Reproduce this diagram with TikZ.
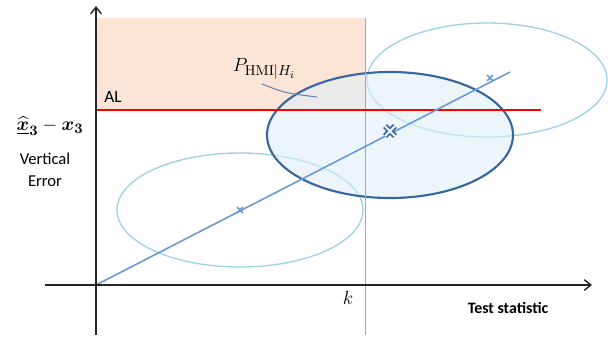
\documentclass[tikz,border=0pt]{standalone}
\usepackage{amsmath}
\usepackage{bm}
\usepackage{fontspec}
\newfontfamily\calfont{Carlito}
\usetikzlibrary{arrows.meta}
\definecolor{orangefill}{HTML}{FCE4D6}
\definecolor{lightell}{HTML}{9BD3E6}
\definecolor{darkell}{HTML}{3A66A0}
\definecolor{ellfill}{HTML}{DDEEF7}
\definecolor{diag}{HTML}{6A9AD6}
\definecolor{kline}{HTML}{86AEE0}
\tikzset{
  axis/.style={line width=1.1pt, black!85, -{Straight Barb[length=5pt,width=8pt]}},
  lightellipse/.style={draw=lightell, line width=1pt},
  mainellipse/.style={draw=darkell, line width=1.6pt, fill=ellfill, fill opacity=0.6},
  smallcross/.style={diag, line width=1.2pt},
  lbl/.style={inner sep=1pt, font=\calfont\fontsize{11}{13}\selectfont}
}
\begin{document}
\begin{tikzpicture}[x=0.0265cm,y=-0.0265cm]
\useasboundingbox (0,0) rectangle (608,342);
% orange region
\fill[orangefill] (97,18) rectangle (365,110);
% light ellipses
\draw[lightellipse] (240,210) ellipse [x radius=123, y radius=57];
\draw[lightellipse] (487,80) ellipse [x radius=120, y radius=57];
% main ellipse
\draw[mainellipse] (390,135) ellipse [x radius=123, y radius=63];
% k line
\coordinate (ktop) at (365,18);
\coordinate (kbot) at (365,335);
\draw[kline, line width=0.7pt] (ktop) -- (kbot);
% AL line
\coordinate (alL) at (97,110);
\coordinate (alR) at (541,110);
\draw[red, line width=1.2pt] (alL) -- (alR);
% diagonal
\coordinate (o) at (96,285);
\coordinate (dend) at (510,72);
\draw[diag, line width=1.2pt] (o) -- (dend);
% crosses
\foreach \p in {(240,210),(490,78)}{
  \draw[smallcross] \p ++(-3,-3) -- ++(6,6);
  \draw[smallcross] \p ++(-3,3) -- ++(6,-6);
}
\begin{scope}[shift={(390,131)}]
  \draw[darkell, line width=4.2pt] (-5,-5) -- (5,5) (-5,5) -- (5,-5);
  \draw[ellfill!60!white, line width=1.6pt] (-5,-5) -- (5,5) (-5,5) -- (5,-5);
\end{scope}
% axes
\coordinate (ybot) at (96,335);
\coordinate (ytop) at (96,6);
\coordinate (xl) at (45,285);
\coordinate (xr) at (592,285);
\draw[axis] (ybot) -- (ytop);
\draw[axis] (xl) -- (xr);
% labels
\node[inner sep=1pt, font=\fontsize{15.5}{17}\selectfont] (phmi) at (264,69) {$P_{\mathrm{HMI}|H_i}$};
\coordinate (lead1) at (262,84);
\coordinate (lead2) at (317,97);
\draw[darkell!80, line width=0.8pt] (lead1) .. controls (285,93) .. (lead2);
\node[lbl, font=\calfont\fontsize{13}{15}\selectfont] (al) at (113,97) {AL};
\node[inner sep=0pt, font=\fontsize{15}{17}\selectfont] (err) at (50,126) {$\underline{\bm{\widehat{x}}}_{\bm 3}-\bm{x}_{\bm 3}$};
\node[lbl, font=\calfont\fontsize{12.5}{15}\selectfont] (vert) at (45,159) {Vertical};
\node[lbl, font=\calfont\fontsize{12.5}{15}\selectfont] (errw) at (45,181) {Error};
\node[inner sep=1pt, font=\fontsize{15}{17}\selectfont] (k) at (348,298) {$k$};
\node[lbl, font=\calfont\bfseries\fontsize{12}{14}\selectfont] (ts) at (508,308) {Test statistic};
\end{tikzpicture}
\end{document}
